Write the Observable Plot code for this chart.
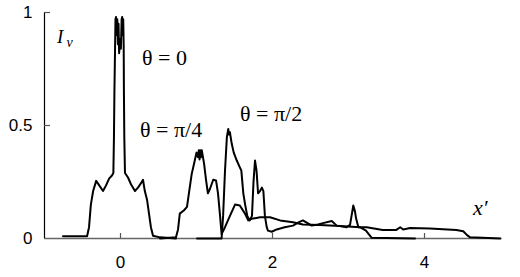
<!DOCTYPE html>
<html>
<head>
<meta charset="utf-8">
<script src="https://cdn.jsdelivr.net/npm/d3@7"></script>
<script src="https://cdn.jsdelivr.net/npm/@observablehq/plot@0.6"></script>
<style>
  body { margin: 0; background: #fff; }
</style>
</head>
<body>
<div id="chart"></div>
<script>
// Intensity profiles I_v(x') for three angles
const theta0 = [
  [-0.757,0.01],[-0.44,0.01],[-0.414,0.05],[-0.39,0.15],[-0.36,0.21],[-0.32,0.255],
  [-0.28,0.235],[-0.23,0.21],[-0.19,0.235],[-0.15,0.265],[-0.11,0.28],[-0.094,0.29],
  [-0.086,0.45],[-0.08,0.65],[-0.066,0.97],[-0.059,0.98],[-0.05,0.9],[-0.042,0.97],
  [-0.034,0.86],[-0.026,0.95],[-0.018,0.82],[-0.008,0.88],[0.005,0.84],[0.015,0.97],
  [0.022,0.98],[0.03,0.9],[0.036,0.97],[0.042,0.85],[0.045,0.65],[0.05,0.45],
  [0.059,0.29],[0.099,0.27],[0.138,0.24],[0.19,0.21],[0.23,0.225],[0.27,0.245],
  [0.296,0.26],[0.32,0.21],[0.35,0.17],[0.375,0.11],[0.40,0.05],[0.428,0.012],
  [0.52,0.005],[0.73,0.0]
];
const thetaPi4 = [
  [0.52,0.0],[0.73,0.005],[0.757,0.04],[0.78,0.11],[0.836,0.125],[0.875,0.14],
  [0.9,0.2],[0.937,0.286],[0.967,0.33],[1.0,0.38],[1.02,0.36],[1.03,0.39],[1.04,0.35],
  [1.05,0.39],[1.06,0.36],[1.07,0.39],[1.08,0.37],[1.10,0.33],[1.125,0.26],[1.15,0.2],
  [1.178,0.22],[1.22,0.26],[1.257,0.257],[1.283,0.2],[1.31,0.1],[1.33,0.02],
  [1.375,0.05],[1.44,0.1],[1.507,0.15],[1.57,0.146],[1.638,0.11],[1.68,0.08],
  [1.726,0.087],[1.836,0.094],[1.967,0.094],[2.1,0.08],[2.27,0.072],[2.4,0.062],
  [2.62,0.06],[2.89,0.055],[3.15,0.05],[3.23,0.035],[3.305,0.003],[3.875,0.0]
];
const thetaPi2 = [
  [1.007,0.0],[1.33,0.0],[1.35,0.1],[1.375,0.3],[1.40,0.45],[1.418,0.485],[1.427,0.46],
  [1.44,0.47],[1.463,0.42],[1.49,0.38],[1.53,0.345],[1.57,0.315],[1.59,0.3],[1.616,0.2],
  [1.64,0.15],[1.668,0.1],[1.70,0.08],[1.73,0.1],[1.75,0.25],[1.77,0.345],[1.79,0.3],
  [1.81,0.2],[1.836,0.21],[1.86,0.225],[1.88,0.21],[1.90,0.1],[1.924,0.05],[1.94,0.035],
  [1.99,0.03],[2.055,0.04],[2.16,0.05],[2.27,0.057],[2.335,0.07],[2.40,0.08],[2.45,0.07],
  [2.516,0.057],[2.6,0.062],[2.665,0.068],[2.78,0.077],[2.845,0.057],[2.976,0.05],
  [3.02,0.06],[3.05,0.12],[3.063,0.146],[3.085,0.12],[3.1,0.088],[3.13,0.05],[3.24,0.05],
  [3.45,0.038],[3.63,0.038],[3.68,0.05],[3.72,0.04],[3.81,0.046],[4.07,0.044],
  [4.42,0.038],[4.51,0.032],[4.56,0.015],[4.6,0.005],[5.0,0.0]
];
const xTicks = [0, 2, 4];
const yTicks = [0, 0.5, 1];
const curveLabels = ["θ = 0", "θ = π/4", "θ = π/2"];
const labelX = [0.283, 0.257, 1.572];
const labelY = [0.769, 0.448, 0.522];

const labels = curveLabels.map((t, i) => ({t, x: labelX[i], y: labelY[i]}));
const serif = "Liberation Serif, DejaVu Serif, serif";
const sans = "Liberation Sans, Arial, sans-serif";

const W = 520, H = 277, mL = 44, mR = 20, mT = 12, mB = 39;
const frameW = W - mL - mR, frameH = H - mT - mB;

const chart = Plot.plot({
  width: W, height: H,
  marginLeft: mL, marginRight: mR, marginTop: mT, marginBottom: mB,
  style: {background: "#fff", color: "#000", fontFamily: sans},
  x: {domain: [-1, 5]},
  y: {domain: [0, 1]},
  marks: [
    Plot.axisX({ticks: xTicks, tickSize: 0, tickPadding: 17, fontSize: 17, fontFamily: sans, tickFormat: d => String(d), label: null}),
    Plot.axisY({ticks: yTicks, tickSize: 0, tickPadding: 12, fontSize: 17, fontFamily: sans, tickFormat: d => String(d), label: null}),
    Plot.ruleY([0], {stroke: "#666", strokeWidth: 1.6}),
    Plot.ruleX([-1], {y1: 0, y2: 1, stroke: "#000", strokeWidth: 1.2}),
    Plot.tickY(yTicks.slice(1), {y: d => d, insetRight: frameW - 6, stroke: "#555", strokeWidth: 1.2}),
    Plot.tickX(xTicks, {x: d => d, insetTop: frameH - 5, stroke: "#555", strokeWidth: 1.2}),
    Plot.line(theta0, {x: d => d[0], y: d => d[1], stroke: "#000", strokeWidth: 2, strokeLinejoin: "round"}),
    Plot.line(thetaPi4, {x: d => d[0], y: d => d[1], stroke: "#000", strokeWidth: 2, strokeLinejoin: "round"}),
    Plot.line(thetaPi2, {x: d => d[0], y: d => d[1], stroke: "#000", strokeWidth: 2, strokeLinejoin: "round"}),
    Plot.text(labels, {x: "x", y: "y", text: "t", textAnchor: "start", lineAnchor: "bottom", fontSize: 22, fontFamily: serif, fill: "#000"}),
    Plot.text(["I"], {x: -0.836, y: 0.867, text: d => d, textAnchor: "start", lineAnchor: "bottom", fontSize: 19, fontStyle: "italic", fontFamily: serif, fill: "#000"}),
    Plot.text(["v"], {x: -0.71, y: 0.848, text: d => d, textAnchor: "start", lineAnchor: "bottom", fontSize: 14, fontStyle: "italic", fontFamily: serif, fill: "#000"}),
    Plot.text(["x′"], {x: 4.638, y: 0.102, text: d => d, textAnchor: "start", lineAnchor: "bottom", fontSize: 22, fontStyle: "italic", fontFamily: serif, fill: "#000"})
  ]
});
document.getElementById("chart").appendChild(chart);
</script>
</body>
</html>
